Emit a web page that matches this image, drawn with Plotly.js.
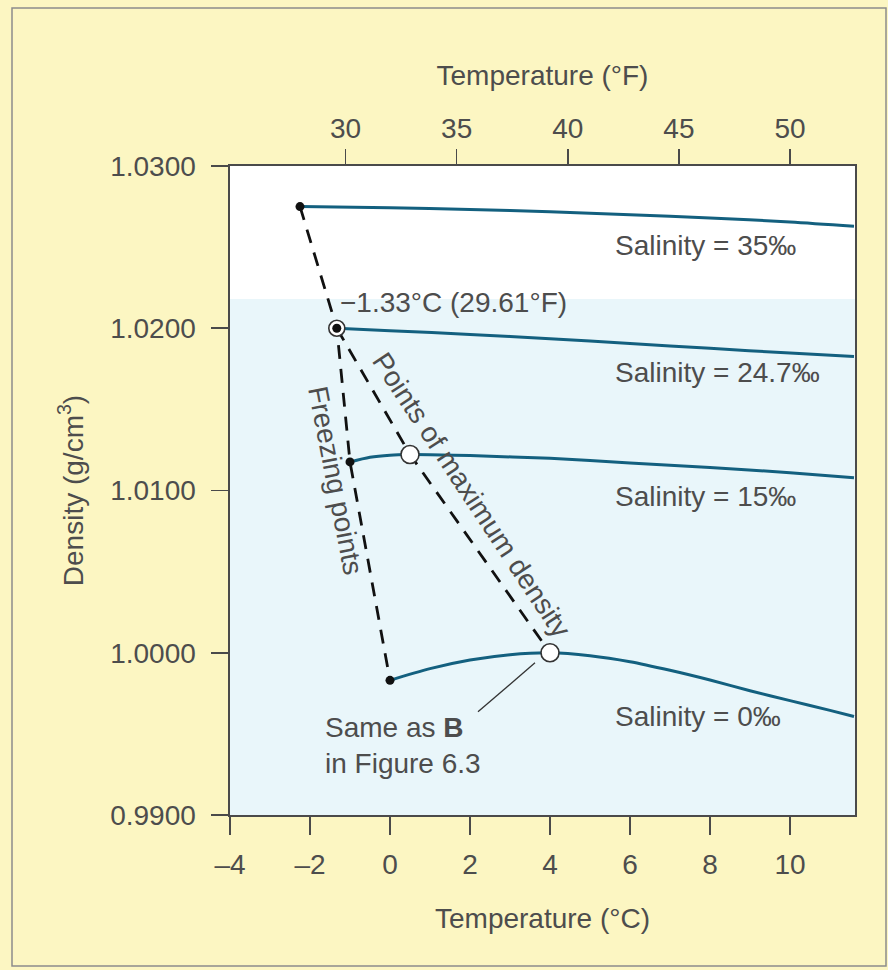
<!DOCTYPE html>
<html>
<head>
<meta charset="utf-8">
<script src="https://cdn.plot.ly/plotly-3.0.1.min.js"></script>
<style>
  html, body { margin: 0; padding: 0; background: #fcf6c2; }
  #chart { width: 888px; height: 970px; }
</style>
</head>
<body>
<div id="chart"></div>
<script>
// Density of water (g/cm3) against temperature (°C) for four salinities
const sal35Temp  = [-2.25, 0, 2, 4, 6, 8, 10, 11.6];
const sal35Dens  = [1.02750, 1.02742, 1.02732, 1.02718, 1.02700, 1.02680, 1.02655, 1.02628];

const sal247Temp = [-1.33, 0, 2, 4, 6, 8, 10, 11.6];
const sal247Dens = [1.02000, 1.01985, 1.01962, 1.01936, 1.01906, 1.01876, 1.01847, 1.01826];

const sal15Temp  = [-1.0, -0.5, 0, 0.5, 1, 2, 4, 6, 8, 10, 11.6];
const sal15Dens  = [1.01176, 1.01205, 1.01218, 1.01222, 1.01221, 1.01215, 1.01198, 1.01170, 1.01142, 1.01110, 1.01079];

const sal0Temp   = [0, 1, 2, 3, 4, 5, 6, 7, 8, 9, 10, 11, 11.6];
const sal0Dens   = [0.99830, 0.99902, 0.99955, 0.99988, 1.00000, 0.99982, 0.99945, 0.99892, 0.99832, 0.99766, 0.99705, 0.99645, 0.99607];

// Freezing points and points of maximum density
const freezeTemp = [-2.25, -1.33, -1.0, 0];
const freezeDens = [1.0275, 1.0200, 1.01176, 0.99830];
const maxDensTemp = [-1.33, 0.5, 4];
const maxDensDens = [1.0200, 1.01222, 1.0000];

// Curve labels
const curveLabels = ['Salinity = 35‰', 'Salinity = 24.7‰', 'Salinity = 15‰', 'Salinity = 0‰'];
const curveLabelY = [1.02513, 1.01727, 1.00962, 0.99607];

// Axis ticks
const yTicks = [0.99, 1.00, 1.01, 1.02, 1.03];
const yTickText = ['0.9900', '1.0000', '1.0100', '1.0200', '1.0300'];
const xTicks = [-4, -2, 0, 2, 4, 6, 8, 10];
const xTickText = ['–4', '–2', '0', '2', '4', '6', '8', '10'];
const fTicks = [30, 35, 40, 45, 50];

const xRange = [-4, 11.625];
const yRange = [0.99, 1.03];
const toF = c => c * 9 / 5 + 32;

const FONT = 'Liberation Sans, Arial, Helvetica, sans-serif';
const TXT = '#4d4d4d';
const CURVE = '#13607f';
const AXIS = '#4a4a4a';
const DASH = '14px,10px';

function curve(x, y) {
  return { x, y, type: 'scatter', mode: 'lines', line: { color: CURVE, width: 3, shape: 'spline', smoothing: 0.8 },
           hoverinfo: 'skip', showlegend: false };
}

const traces = [
  // dashed guide lines
  { x: freezeTemp, y: freezeDens, type: 'scatter', mode: 'lines',
    line: { color: '#111', width: 2.8, dash: DASH }, showlegend: false, hoverinfo: 'skip' },
  { x: maxDensTemp, y: maxDensDens, type: 'scatter', mode: 'lines',
    line: { color: '#111', width: 2.8, dash: DASH }, showlegend: false, hoverinfo: 'skip' },
  curve(sal35Temp, sal35Dens),
  curve(sal247Temp, sal247Dens),
  curve(sal15Temp, sal15Dens),
  curve(sal0Temp, sal0Dens),
  // freezing points (solid dots) — the 24.7‰ point is drawn as a ringed dot below
  { x: freezeTemp.filter((_, i) => i !== 1), y: freezeDens.filter((_, i) => i !== 1),
    type: 'scatter', mode: 'markers', marker: { color: '#111', size: 9 }, showlegend: false },
  // points of maximum density (open circles)
  { x: maxDensTemp.slice(1), y: maxDensDens.slice(1), type: 'scatter', mode: 'markers',
    marker: { color: '#ffffff', size: 18, line: { color: '#333', width: 1.6 } }, showlegend: false },
  // 24.7‰: freezing point coincides with maximum density
  { x: [maxDensTemp[0]], y: [maxDensDens[0]], type: 'scatter', mode: 'markers',
    marker: { color: '#ffffff', size: 16, line: { color: '#333', width: 1.6 } }, showlegend: false },
  { x: [freezeTemp[1]], y: [freezeDens[1]], type: 'scatter', mode: 'markers',
    marker: { color: '#111', size: 9 }, showlegend: false },
  // carries the °F scale on top
  { x: [toF(xRange[0]), toF(xRange[1])], y: [yRange[0], yRange[0]], xaxis: 'x2', yaxis: 'y',
    type: 'scatter', mode: 'markers', marker: { opacity: 0 }, hoverinfo: 'skip', showlegend: false }
];

const annotations = curveLabels.map((t, i) => ({
  x: 5.575, y: curveLabelY[i], xref: 'x', yref: 'y', text: t, showarrow: false,
  xanchor: 'left', yanchor: 'middle', font: { family: FONT, size: 28, color: TXT }
}));
annotations.push(
  { x: -1.3, y: 1.02156, xref: 'x', yref: 'y', text: '−1.33°C (29.61°F)', showarrow: false,
    xanchor: 'left', yanchor: 'middle', font: { family: FONT, size: 28, color: TXT } },
  { x: 2.025, y: 1.00973, xref: 'x', yref: 'y', text: 'Points of maximum density', showarrow: false,
    textangle: 56.5, xanchor: 'center', yanchor: 'middle', font: { family: FONT, size: 28, color: TXT } },
  { x: -1.375, y: 1.01065, xref: 'x', yref: 'y', text: 'Freezing points', showarrow: false,
    textangle: 79, xanchor: 'center', yanchor: 'middle', font: { family: FONT, size: 28, color: TXT } },
  { x: -1.675, y: 0.99429, xref: 'x', yref: 'y', text: 'Same as <b>B</b><br>in Figure 6.3', showarrow: false,
    align: 'left', xanchor: 'left', yanchor: 'middle', font: { family: FONT, size: 28, color: TXT } }
);

const shapes = [
  // pale blue water tint in the lower part of the plot
  { type: 'rect', xref: 'x', yref: 'y', x0: xRange[0], x1: xRange[1], y0: yRange[0], y1: 1.0218,
    fillcolor: '#e9f6fa', line: { width: 0 }, layer: 'below' },
  // leader from the note to the 0‰ maximum-density point
  { type: 'line', xref: 'x', yref: 'y', x0: 2.2, y0: 0.99636, x1: 3.625, y1: 0.99938,
    line: { color: '#333', width: 1.3 } },
  // outer frame
  { type: 'rect', xref: 'paper', yref: 'paper', x0: -0.3488, x1: 1.0496, y0: -0.2327, y1: 1.2435,
    line: { color: '#8c8c8c', width: 1.5 }, fillcolor: 'rgba(0,0,0,0)', layer: 'below' }
];

const tickFont = { family: FONT, size: 28, color: TXT };
const titleFont = { family: FONT, size: 28, color: TXT };

const layout = {
  width: 888, height: 970,
  margin: { l: 230, r: 33, t: 166, b: 155 },
  paper_bgcolor: '#fcf6c2',
  plot_bgcolor: '#ffffff',
  showlegend: false,
  xaxis: {
    range: xRange, tickvals: xTicks, ticktext: xTickText, ticks: 'outside', ticklen: 18, tickwidth: 1.6,
    tickcolor: AXIS, showline: true, linecolor: AXIS, linewidth: 1.6, mirror: true,
    showgrid: false, zeroline: false, tickfont: tickFont, ticklabelstandoff: 6,
    title: { text: 'Temperature (°C)', font: titleFont, standoff: 29 }
  },
  xaxis2: {
    overlaying: 'x', side: 'top', anchor: 'y', range: [toF(xRange[0]), toF(xRange[1])],
    tickvals: fTicks, ticks: 'outside', ticklen: 16, tickwidth: 1.6, tickcolor: AXIS,
    showline: false, showgrid: false, zeroline: false, tickfont: tickFont, ticklabelstandoff: 0,
    title: { text: 'Temperature (°F)', font: titleFont, standoff: 18 }
  },
  yaxis: {
    range: yRange, tickvals: yTicks, ticktext: yTickText, ticks: 'outside', ticklen: 17, tickwidth: 1.6,
    tickcolor: AXIS, showline: true, linecolor: AXIS, linewidth: 1.6, mirror: true,
    showgrid: false, zeroline: false, tickfont: tickFont, ticklabelstandoff: 10,
    title: { text: 'Density (g/cm<sup>3</sup>)', font: titleFont, standoff: 18 }
  },
  annotations, shapes
};

Plotly.newPlot('chart', traces, layout, { displayModeBar: false, staticPlot: true });
</script>
</body>
</html>
